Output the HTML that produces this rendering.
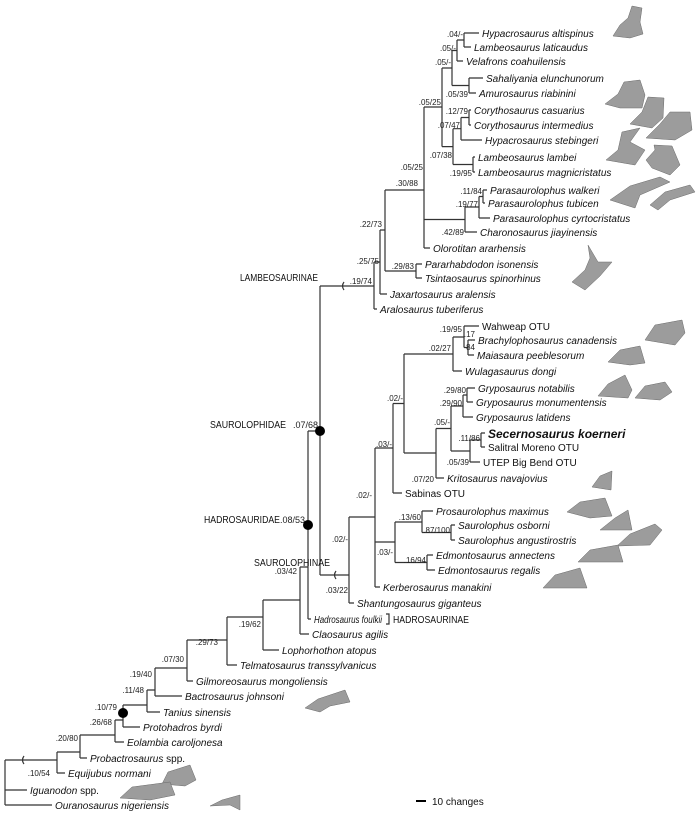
<!DOCTYPE html>
<html><head><meta charset="utf-8"><style>
html,body{margin:0;padding:0;background:#fff}
svg{display:block}
.l{stroke:#333;stroke-width:1.2;fill:none}
.t{font-family:"Liberation Sans",sans-serif;font-size:10px;font-style:italic;fill:#111}
.n{font-family:"Liberation Sans",sans-serif;font-size:10px;fill:#111}
.s{font-family:"Liberation Sans",sans-serif;font-size:8px;fill:#222;text-anchor:end}
.c{font-family:"Liberation Sans",sans-serif;font-size:10.5px;fill:#111}
.sk{fill:#9c9c9c;stroke:#6a6a6a;stroke-width:.5}
</style></head><body>
<svg width="696" height="813" viewBox="0 0 696 813">
<g class="l">
<path d="M464,33V47M464,33H479M464,47H471M457,40V61M457,40H464M457,61H463"/>
<path d="M469,78V93M469,78H483M469,93H476M452,50.5V85.5M452,50.5H457M452,85.5H469"/>
<path d="M469,110V125M469,110H471M469,125H471M461,117.5V140M461,117.5H469M461,140H482"/>
<path d="M473,157V172M473,157H475M473,172H475M453,128.7V164.5M453,128.7H461M453,164.5H473"/>
<path d="M442,68V146.6M442,68H452M442,146.6H453"/>
<path d="M483,190V203M483,190H487M483,203H485M479,196.5V218M479,196.5H483M479,218H490"/>
<path d="M465,207V232M465,207H479M465,232H477"/>
<path d="M424,107V248M424,107H442M424,219.5H465M424,248H430"/>
<path d="M416,264V278M416,264H422M416,278H422"/>
<path d="M385,190V271M385,190H424M385,271H416"/>
<path d="M380,230V294M380,230H385M380,294H387"/>
<path d="M374,262V309M374,262H380M374,309H377"/>
<path d="M320,286H374"/>
<path d="M468,340V355M468,340H475M468,355H474M464,326V347.5M464,326H479M464,347.5H468"/>
<path d="M453,337V371M453,337H464M453,371H462"/>
<path d="M467,388V402M467,388H475M467,402H473M463,395V417M463,395H467M463,417H473"/>
<path d="M481,433V447M481,433H485M481,447H485M470,440V462M470,440H481M470,462H480"/>
<path d="M451,406V451M451,406H463M451,451H470"/>
<path d="M436,428.5V478M436,428.5H451M436,478H444"/>
<path d="M404,354V453M404,354H453M404,453H436"/>
<path d="M393,403.5V493M393,403.5H404M393,493H402"/>
<path d="M451,525V540M451,525H455M451,540H455M422,511V532.5M422,511H433M422,532.5H451"/>
<path d="M427,555V570M427,555H433M427,570H435"/>
<path d="M395,522V562.5M395,522H422M395,562.5H427"/>
<path d="M375,448V587M375,448H393M375,542H395M375,587H380"/>
<path d="M349,517V603M349,517H375M349,603H354"/>
<path d="M320,575H349"/>
<path d="M320,286V575M308,431H320M308,431V619M308,619H311"/>
<path d="M300,567V634M300,567H308M300,634H309"/>
<path d="M263,600V650M263,600H300M263,650H279"/>
<path d="M227,617V665M227,617H263M227,665H237"/>
<path d="M187,640V681M187,640H227M187,681H193"/>
<path d="M155,668V696M155,668H187M155,696H182"/>
<path d="M147,690V712M147,690H155M147,712H160"/>
<path d="M123,705V727M123,705H147M123,727H140"/>
<path d="M115,720V742M115,720H123M115,742H124"/>
<path d="M80,735V758M80,735H115M80,758H87"/>
<path d="M57,752V773M57,752H80M57,773H65"/>
<path d="M5,760V805M5,760H57M5,790H27M5,805H52"/>
<path d="M344,282q-3,4 0,8M336,571q-3,4 0,8M24,756q-3,4 0,8"/>
<path d="M386,614h3v10h-3"/>
</g>
<g fill="#000"><circle cx="320" cy="431" r="5"/><circle cx="308" cy="525" r="5"/><circle cx="123" cy="713" r="5"/></g>
<rect x="416" y="800" width="10" height="2" fill="#000"/>
<text class="n" x="432" y="805">10 changes</text>

<g class="s">
<text x="463" y="37">.04/-</text><text x="456" y="51">.05/-</text><text x="451" y="65">.05/-</text>
<text x="468" y="97">.05/39</text><text x="441" y="105">.05/25</text><text x="468" y="114">.12/79</text>
<text x="460" y="128">.07/47</text><text x="452" y="158">.07/38</text><text x="472" y="176">.19/95</text>
<text x="423" y="170">.05/25</text><text x="482" y="194">.11/84</text><text x="478" y="207">.19/77</text>
<text x="464" y="235">.42/89</text><text x="418" y="186">.30/88</text><text x="382" y="227">.22/73</text>
<text x="379" y="264">.25/75</text><text x="414" y="269">.29/83</text><text x="372" y="284">.19/74</text>
<text x="462" y="332">.19/95</text><text x="475" y="337">.17</text><text x="475" y="350">84</text>
<text x="451" y="351">.02/27</text><text x="466" y="393">.29/80</text><text x="462" y="406">.29/90</text>
<text x="450" y="425">.05/-</text><text x="480" y="441">.11/86</text><text x="469" y="465">.05/39</text>
<text x="434" y="482">.07/20</text><text x="403" y="401">.02/-</text><text x="392" y="447">.03/-</text>
<text x="372" y="498">.02/-</text><text x="421" y="520">.13/60</text><text x="450" y="533">.87/100</text>
<text x="426" y="563">.16/94</text><text x="393" y="555">.03/-</text><text x="348" y="542">.02/-</text>
<text x="348" y="593">.03/22</text><text x="297" y="574">.03/42</text><text x="261" y="627">.19/62</text>
<text x="218" y="645">.29/73</text><text x="184" y="662">.07/30</text><text x="152" y="677">.19/40</text>
<text x="144" y="693">.11/48</text><text x="117" y="710">.10/79</text><text x="112" y="725">.26/68</text>
<text x="78" y="741">.20/80</text><text x="50" y="776">.10/54</text>
</g>

<text class="c" x="240" y="281" textLength="78" lengthAdjust="spacingAndGlyphs">LAMBEOSAURINAE</text>
<text class="c" x="210" y="428" textLength="76" lengthAdjust="spacingAndGlyphs">SAUROLOPHIDAE</text>
<text class="s" x="318" y="428" style="font-size:9px">.07/68</text>
<text class="c" x="204" y="523" textLength="76" lengthAdjust="spacingAndGlyphs">HADROSAURIDAE</text>
<text class="s" x="305" y="523" style="font-size:9px">.08/53</text>
<text class="c" x="254" y="566" textLength="76" lengthAdjust="spacingAndGlyphs">SAUROLOPHINAE</text>
<text class="c" x="393" y="623" textLength="76" lengthAdjust="spacingAndGlyphs">HADROSAURINAE</text>

<g class="t">
<text x="482" y="37">Hypacrosaurus altispinus</text>
<text x="474" y="51">Lambeosaurus laticaudus</text>
<text x="466" y="65">Velafrons coahuilensis</text>
<text x="486" y="82">Sahaliyania elunchunorum</text>
<text x="479" y="97">Amurosaurus riabinini</text>
<text x="474" y="114">Corythosaurus casuarius</text>
<text x="474" y="129">Corythosaurus intermedius</text>
<text x="485" y="144">Hypacrosaurus stebingeri</text>
<text x="478" y="161">Lambeosaurus lambei</text>
<text x="478" y="176">Lambeosaurus magnicristatus</text>
<text x="490" y="194">Parasaurolophus walkeri</text>
<text x="488" y="207">Parasaurolophus tubicen</text>
<text x="493" y="222">Parasaurolophus cyrtocristatus</text>
<text x="480" y="236">Charonosaurus jiayinensis</text>
<text x="433" y="252">Olorotitan ararhensis</text>
<text x="425" y="268">Pararhabdodon isonensis</text>
<text x="425" y="282">Tsintaosaurus spinorhinus</text>
<text x="390" y="298">Jaxartosaurus aralensis</text>
<text x="380" y="313">Aralosaurus tuberiferus</text>
<text x="478" y="344">Brachylophosaurus canadensis</text>
<text x="477" y="359">Maiasaura peeblesorum</text>
<text x="465" y="375">Wulagasaurus dongi</text>
<text x="478" y="392">Gryposaurus notabilis</text>
<text x="476" y="406">Gryposaurus monumentensis</text>
<text x="476" y="421">Gryposaurus latidens</text>
<text x="488" y="438" style="font-weight:bold;font-size:12px">Secernosaurus koerneri</text>
<text x="447" y="482">Kritosaurus navajovius</text>
<text x="436" y="515">Prosaurolophus maximus</text>
<text x="458" y="529">Saurolophus osborni</text>
<text x="458" y="544">Saurolophus angustirostris</text>
<text x="436" y="559">Edmontosaurus annectens</text>
<text x="438" y="574">Edmontosaurus regalis</text>
<text x="383" y="591">Kerberosaurus manakini</text>
<text x="357" y="607">Shantungosaurus giganteus</text>
<text x="314" y="623" textLength="68" lengthAdjust="spacingAndGlyphs">Hadrosaurus foulkii</text>
<text x="312" y="638">Claosaurus agilis</text>
<text x="282" y="654">Lophorhothon atopus</text>
<text x="240" y="669">Telmatosaurus transsylvanicus</text>
<text x="196" y="685">Gilmoreosaurus mongoliensis</text>
<text x="185" y="700">Bactrosaurus johnsoni</text>
<text x="163" y="716">Tanius sinensis</text>
<text x="143" y="731">Protohadros byrdi</text>
<text x="127" y="746">Eolambia caroljonesa</text>
<text x="90" y="762">Probactrosaurus <tspan font-style="normal">spp.</tspan></text>
<text x="68" y="777">Equijubus normani</text>
<text x="30" y="794">Iguanodon <tspan font-style="normal">spp.</tspan></text>
<text x="55" y="809">Ouranosaurus nigeriensis</text>
</g>
<g class="n">
<text x="482" y="330">Wahweap OTU</text>
<text x="488" y="451">Salitral Moreno OTU</text>
<text x="483" y="466">UTEP Big Bend OTU</text>
<text x="405" y="497">Sabinas OTU</text>
</g>

<g class="sk">
<path d="M613,36L620,25L628,18L632,6L642,8L640,22L643,34L630,38Z"/>
<path d="M605,104L618,94L624,82L640,80L645,95L642,108L620,108Z"/>
<path d="M630,124L642,112L648,97L664,98L663,118L652,128Z"/>
<path d="M646,138L660,124L670,112L690,112L692,130L675,140Z"/>
<path d="M606,160L618,150L622,132L640,128L630,142L645,150L635,165Z"/>
<path d="M646,160L655,150L654,145L672,146L680,165L670,175L652,168Z"/>
<path d="M610,200L630,186L660,177L670,182L640,195L635,208Z"/>
<path d="M650,205L665,192L690,185L695,192L670,200L658,210Z"/>
<path d="M572,282L585,270L590,258L588,245L598,262L612,262L600,276L585,290Z"/>
<path d="M645,340L655,325L682,320L685,333L675,345Z"/>
<path d="M608,362L620,350L640,346L645,363L630,365Z"/>
<path d="M598,396L608,384L625,375L632,390L628,398Z"/>
<path d="M635,398L645,386L665,382L672,392L660,400Z"/>
<path d="M592,487L600,476L612,471L611,490Z"/>
<path d="M567,512L580,502L605,498L612,516L590,518Z"/>
<path d="M600,530L615,518L628,510L632,530Z"/>
<path d="M617,546L630,534L655,524L662,530L650,545Z"/>
<path d="M578,562L590,550L618,545L623,562Z"/>
<path d="M543,588L555,575L580,568L587,588Z"/>
<path d="M305,708L318,699L345,690L350,702L330,706L320,712Z"/>
<path d="M162,784L168,772L190,765L196,780L185,786Z"/>
<path d="M120,798L132,787L170,782L175,795L150,800Z"/>
<path d="M210,806L222,800L240,795L240,810L230,805Z"/>
</g>
</svg>
</body></html>
